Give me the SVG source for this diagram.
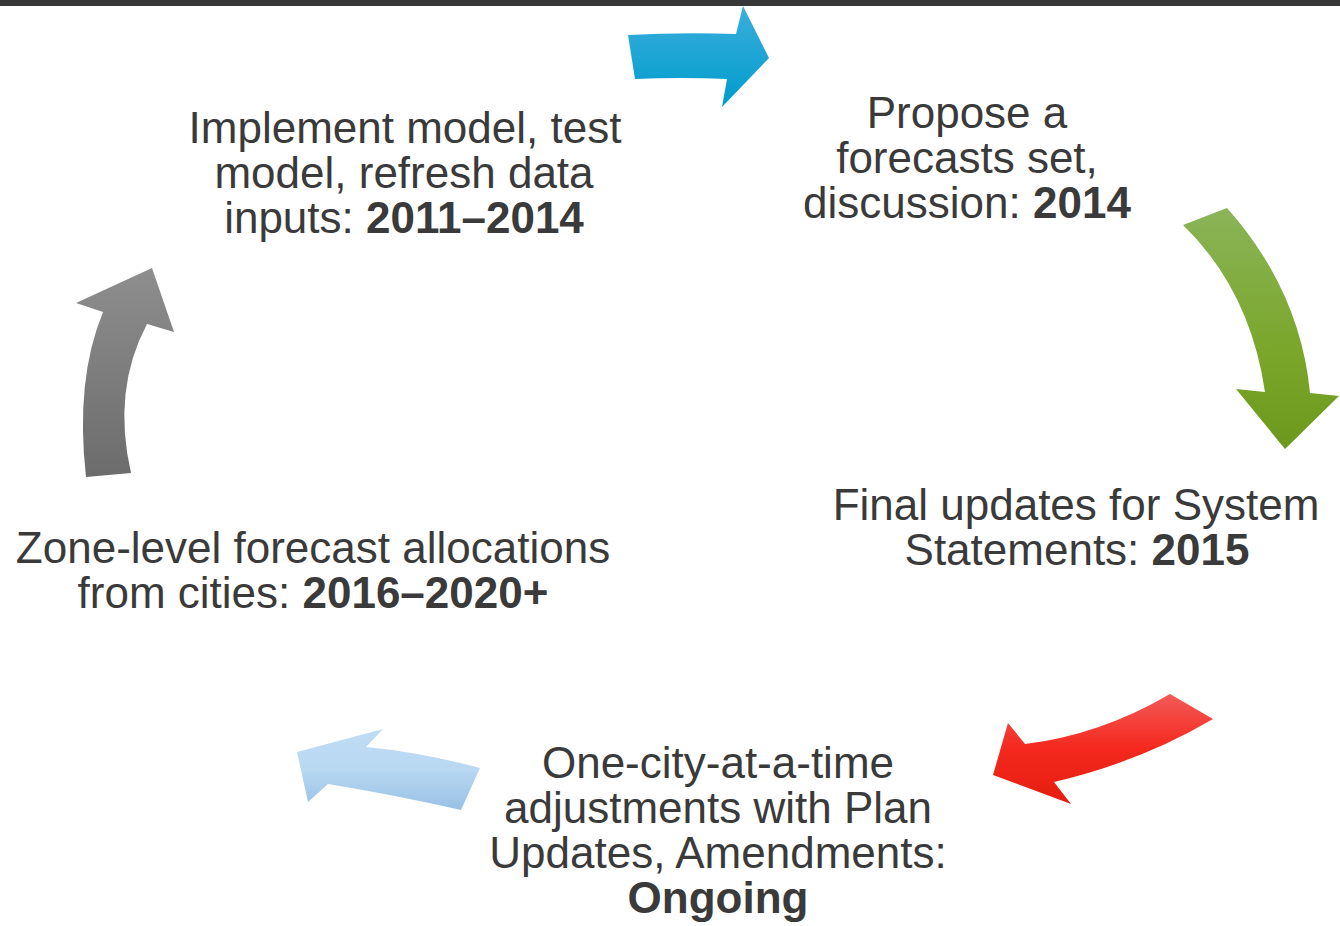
<svg xmlns="http://www.w3.org/2000/svg" width="1340" height="926" viewBox="0 0 1340 926">
<defs>
<linearGradient id="gBlue" x1="0" y1="0" x2="0" y2="1"><stop offset="0" stop-color="#3aaedc"/><stop offset="1" stop-color="#009ccc"/></linearGradient>
<linearGradient id="gGreen" x1="0" y1="0" x2="0" y2="1"><stop offset="0" stop-color="#8ab458"/><stop offset="0.6" stop-color="#7aa62a"/><stop offset="1" stop-color="#6c981c"/></linearGradient>
<linearGradient id="gRed" x1="0" y1="0" x2="0" y2="1"><stop offset="0" stop-color="#f45a56"/><stop offset="0.5" stop-color="#f4281e"/><stop offset="1" stop-color="#e41e0e"/></linearGradient>
<linearGradient id="gLight" x1="0" y1="0" x2="0" y2="1"><stop offset="0" stop-color="#c0dcf4"/><stop offset="0.5" stop-color="#b8d8f2"/><stop offset="1" stop-color="#98c0e4"/></linearGradient>
<linearGradient id="gGray" x1="0" y1="0" x2="0" y2="1"><stop offset="0" stop-color="#8e8e8e"/><stop offset="1" stop-color="#6c6c6c"/></linearGradient>
</defs>
<style>
text{font-family:"Liberation Sans",Arial,sans-serif;font-size:44px;fill:#3a3a3a;text-anchor:middle}
.b{font-weight:bold}
</style>
<rect x="0" y="0" width="1340" height="6" fill="#383838"/>
<g id="connectors">
<path id="arrow-blue" d="M628,35 Q682,32 736,34 L743,6 L769,58 L722,107 L727,79 Q681,77 635,79 Z" fill="url(#gBlue)"/>
<path id="arrow-green" d="M1183,225 Q1250,290 1265,392 L1236,389 L1285,449 L1339,396 L1310,393 Q1300,290 1227,208 Z" fill="url(#gGreen)"/>
<path id="arrow-red" d="M1170,694 Q1100,735 1025,744 L1008,723 L993,775 L1071,804 L1054,782 Q1140,762 1213,719 Z" fill="url(#gRed)"/>
<path id="arrow-lightblue" d="M480,768 Q420,752 366,747 L383,729 L297,752 L308,802 L328,784 Q395,795 461,810 Z" fill="url(#gLight)"/>
<path id="arrow-gray" d="M86,477 Q75,380 103,312 L76,303 L152,268 L174,332 L147,324 Q112,390 131,473 Z" fill="url(#gGray)"/>
</g>
<g id="node-implement">
<text x="405" y="143">Implement model, test</text>
<text x="404" y="188">model, refresh data</text>
<text x="404" y="233">inputs: <tspan class="b">2011–2014</tspan></text>
</g>
<g id="node-propose">
<text x="967" y="128">Propose a</text>
<text x="967" y="173">forecasts set,</text>
<text x="967" y="218">discussion: <tspan class="b">2014</tspan></text>
</g>
<g id="node-final">
<text x="1076" y="520">Final updates for System</text>
<text x="1077" y="565">Statements: <tspan class="b">2015</tspan></text>
</g>
<g id="node-zone">
<text x="313" y="563">Zone-level forecast allocations</text>
<text x="313" y="608">from cities: <tspan class="b">2016–2020+</tspan></text>
</g>
<g id="node-onecity">
<text x="718" y="778">One-city-at-a-time</text>
<text x="718" y="823">adjustments with Plan</text>
<text x="718" y="868">Updates, Amendments:</text>
<text x="718" y="913" class="b">Ongoing</text>
</g>
</svg>
